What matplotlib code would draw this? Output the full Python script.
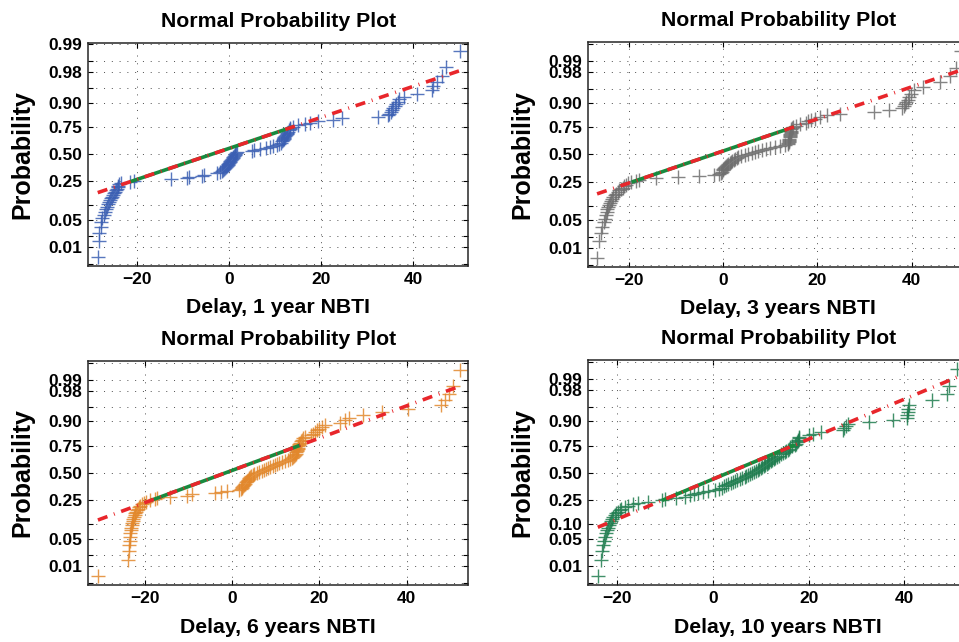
import numpy as np
import matplotlib
matplotlib.use("Agg")
import matplotlib.pyplot as plt
from statistics import NormalDist

plt.rcParams['font.family'] = ['Liberation Sans', 'DejaVu Sans']
plt.rcParams['font.weight'] = 'bold'

# sorted delay samples
delay_1yr = [-28.6, -28.4, -28.3, -28.0, -27.8, -27.6, -27.3, -27.1, -26.9, -26.6,
             -26.4, -26.2, -26.0, -25.8, -25.5, -25.3, -25.1, -24.9, -24.7, -24.5,
             -24.3, -24.1, -23.9, -23.6, -21.6, -20.8,
             -12.6, -9.2, -8.8, -6.0, -5.4, -2.6,
             -2.0, -1.6, -1.3, -1.1, -0.9, -0.7, -0.5, -0.35, -0.2, -0.05, 0.1,
             0.25, 0.4, 0.55, 0.7, 0.85, 1.0, 1.15, 1.3, 1.5, 1.7,
             4.9, 5.4, 6.6, 8.0, 8.9, 9.4, 10.3, 10.8,
             11.2, 11.4, 11.6, 11.8, 11.9, 12.0, 12.2, 12.3, 12.5, 12.6, 12.8, 12.9, 13.1, 13.3,
             13.9, 15.0, 16.5, 17.5, 19.2, 22.5, 24.6, 32.3,
             34.4, 34.8, 35.1, 35.4, 35.7, 36.0, 36.3, 36.6, 37.0, 38.0, 40.9,
             44.0, 44.3, 45.2, 46.3, 47.2, 50.1]

delay_3yr = [-26.7, -26.2, -25.9, -25.6, -25.3, -25.1, -24.9, -24.7, -24.6, -24.4,
             -24.2, -24.0, -23.8, -23.6, -23.3, -23.0, -22.7, -22.3, -22.0, -21.7,
             -21.3, -21.0, -20.6, -20.1, -19.5, -18.5, -17.8,
             -14.2, -9.6, -5.0, -1.8, -0.8,
             -0.5, -0.3, -0.1, 0.1, 0.3, 0.5, 0.7, 0.9, 1.1, 1.4, 1.7, 2.0, 2.3, 2.6, 2.9, 3.2,
             3.8, 4.6, 5.4, 6.2, 6.8, 7.5, 8.3, 9.2, 10.0, 11.0, 12.1, 13.2,
             13.7, 13.8, 13.9, 14.0, 14.05, 14.1, 14.15, 14.2, 14.25, 14.3, 14.35, 14.4,
             14.45, 14.5, 14.6, 14.8,
             15.4, 16.4, 17.5, 18.1, 18.7, 19.5, 20.5, 22.0, 24.8, 32.1, 35.3, 38.0,
             38.3, 38.6, 38.9, 39.2, 39.5, 39.9, 40.6, 42.4, 46.0, 48.1, 49.5, 50.4]

delay_6yr = [-30.7, -23.8, -23.6, -23.5, -23.45, -23.4, -23.3, -23.2, -23.1, -23.0,
             -22.9, -22.75, -22.6, -22.45, -22.3, -22.15, -22.0, -21.85, -21.6, -21.35,
             -21.0, -20.6, -20.1, -19.6, -18.8, -17.6, -17.2, -14.1, -10.3, -9.2,
             -3.8, -2.6, -1.1,
             1.7, 2.0, 2.2, 2.4, 2.6, 2.8, 3.0, 3.2, 3.4, 3.6, 3.8, 4.0, 4.2, 4.4, 4.7, 5.0,
             5.7, 6.2, 6.8, 7.3, 7.8, 8.3, 8.8, 9.3, 9.8, 10.3, 10.7, 11.5, 12.2,
             12.8, 13.3, 13.7,
             14.0, 14.2, 14.4, 14.6, 14.7, 14.8, 14.9, 15.0, 15.1, 15.2, 15.3, 15.4,
             15.6, 15.8, 16.0, 16.3, 16.6,
             18.2, 18.6, 19.0, 19.5, 20.0, 20.7, 21.4,
             24.8, 25.8, 26.7, 30.1, 34.3, 40.4, 47.9, 48.8, 49.6, 50.7, 52.3]

delay_10yr = [-24.1, -23.4, -23.2, -23.0, -22.8, -22.6, -22.4, -22.2, -22.0, -21.8,
              -21.6, -21.4, -21.2, -20.9, -20.6, -20.2, -19.9, -19.5, -19.2, -18.5,
              -17.8, -16.7, -15.7, -13.6, -10.6, -10.0, -7.7, -5.9, -4.8, -3.9,
              -3.1, -2.0, -1.0, 0.5, 1.3,
              1.8, 2.3, 2.8, 3.2, 3.7, 4.1, 4.6, 5.1, 5.6, 6.1, 6.6,
              7.0, 7.4, 7.8, 8.2, 8.6, 9.0, 9.4, 9.7, 10.0, 10.3, 10.6, 10.9, 11.2,
              11.5, 11.8, 12.1, 12.4, 12.7,
              13.0, 13.4, 13.8, 14.2, 14.6, 15.0, 15.3, 15.6, 15.9, 16.2, 16.5, 17.1,
              17.3, 17.5, 17.7, 17.8, 17.9, 18.1,
              20.1, 21.0, 22.5, 27.2, 27.5, 27.9, 28.2, 32.6, 37.7, 40.5, 40.6, 40.7,
              40.8, 41.0, 45.9, 49.0, 49.4, 51.1]

prob_ticks = [0.003, 0.01, 0.02, 0.05, 0.10, 0.25, 0.50, 0.75, 0.90, 0.95, 0.98, 0.99, 0.997]
labels_a = ['', '0.01', '', '0.05', '', '0.25', '0.50', '0.75', '0.90', '', '0.98', '', '0.99']
labels_b = ['', '0.01', '', '0.05', '', '0.25', '0.50', '0.75', '0.90', '', '0.98', '0.99', '']
labels_c = ['', '0.01', '', '0.05', '0.10', '0.25', '0.50', '0.75', '0.90', '', '0.98', '0.99', '']
x_ticks = [-20, 0, 20, 40]

nd = NormalDist()
red = '#e8262b'
green = '#188a3e'

panels = [
    (delay_1yr, '#3b5fb3', 'Delay, 1 year NBTI', labels_a, (-30.65, 51.96), [0.0921, 0.5861, 0.3962, 0.3474], 2.79),
    (delay_3yr, '#6f6f6f', 'Delay, 3 years NBTI', labels_b, (-28.57, 52.0), [0.6134, 0.5846, 0.3962, 0.3495], 2.80),
    (delay_6yr, '#e2882c', 'Delay, 6 years NBTI', labels_b, (-32.9, 54.1), [0.0921, 0.0888, 0.3962, 0.3494], 2.80),
    (delay_10yr, '#1f7d4f', 'Delay, 10 years NBTI', labels_c, (-26.1, 53.4), [0.6134, 0.0888, 0.3962, 0.3500], 2.80),
]

fig = plt.figure(figsize=(9.59, 6.42), dpi=100)

for vals, color, xlabel, ylabels, xlim, rect, zlim in panels:
    ax = fig.add_axes(rect)
    xs = np.sort(np.array(vals))
    n = len(xs)
    pp = (np.arange(1, n + 1) - 0.5) / n
    zs = np.array([nd.inv_cdf(p) for p in pp])
    q1, q3 = np.interp([0.25, 0.75], pp, xs)
    z1, z3 = nd.inv_cdf(0.25), nd.inv_cdf(0.75)
    slope = (z3 - z1) / (q3 - q1)

    ax.plot(xs, zs, '+', color=color, ms=9.5, mew=1.0, alpha=0.85, zorder=2)
    ax.plot([q1, q3], [z1, z3], '-', color=green, lw=2.6, zorder=3)
    xe = np.array([xs[0], xs[-1]])
    ax.plot(xe, z1 + slope * (xe - q1), color=red, lw=2.6,
            ls=(0, (2.8, 1.9, 0.25, 1.9)), zorder=4)

    ax.set_xlim(*xlim)
    ax.set_ylim(-zlim, zlim)
    ax.set_xticks(x_ticks)
    ax.set_yticks([nd.inv_cdf(p) for p in prob_ticks])
    ax.set_yticklabels(ylabels)
    ax.tick_params(direction='in', length=3.5, width=0.8, top=True, right=True,
                   labelsize=12.5, pad=4.5)
    ax.grid(True, ls=(0, (1, 7)), lw=0.7, color='0.3')
    for s in ax.spines.values():
        s.set_linewidth(1.1)
        s.set_color('0.15')

    ax.set_title('Normal Probability Plot', fontsize=15.3, fontweight='bold', pad=11.5)
    ax.set_xlabel(xlabel, fontsize=15.3, fontweight='bold')
    ax.xaxis.set_label_coords(0.5, -0.145)
    ax.set_ylabel('Probability', fontsize=18, fontweight='bold')
    ax.yaxis.set_label_coords(-0.143, 0.5)

fig.savefig('out.png', dpi=100)
